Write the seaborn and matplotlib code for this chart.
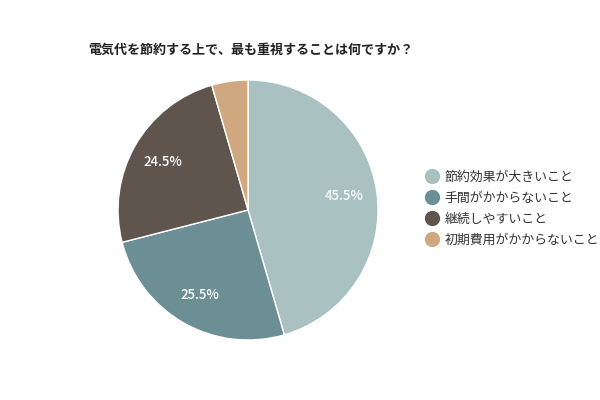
import matplotlib
matplotlib.use("Agg")
import matplotlib.pyplot as plt
from matplotlib.lines import Line2D
import seaborn as sns

# data
labels = ["節約効果が大きいこと", "手間がかからないこと", "継続しやすいこと", "初期費用がかからないこと"]
values = [45.5, 25.5, 24.5, 4.5]
colors = ["#a9c1c1", "#6c8f95", "#5f554d", "#cfa880"]
title = "電気代を節約する上で、最も重視することは何ですか？"

sns.set_theme(style="white")
plt.rcParams['font.family'] = ['Noto Sans CJK JP', 'DejaVu Sans']

fig = plt.figure(figsize=(6, 4), dpi=100)
ax = fig.add_axes([0.1967, 0.15, 0.4334, 0.65])

def fmt(p):
    return f"{p:.1f}%" if p >= 10 else ""

wedges, texts, autotexts = ax.pie(
    values,
    colors=colors,
    startangle=90,
    counterclock=False,
    autopct=fmt,
    pctdistance=0.75,
    wedgeprops={'edgecolor': 'white', 'linewidth': 1},
    textprops={'color': 'white', 'fontsize': 9.5, 'fontweight': 'medium'},
)
ax.set_xlim(-1, 1)
ax.set_ylim(-1, 1)
ax.set_aspect('equal')

fig.text(0.147, 0.875, title, fontsize=9.4, fontweight='bold', color='#222222', va='center')

# round markers for legend
handles = [Line2D([0], [0], marker='o', linestyle='', markersize=10,
                  markerfacecolor=c, markeredgecolor=c) for c in colors]
fig.legend(
    handles, labels,
    loc='center left', bbox_to_anchor=(0.71, 0.478),
    frameon=False, fontsize=9.3, handlelength=1.0,
    handletextpad=0.45, labelspacing=0.62, borderaxespad=0, borderpad=0,
    labelcolor='#333333',
)

fig.savefig("out.png", dpi=100, facecolor='white')
